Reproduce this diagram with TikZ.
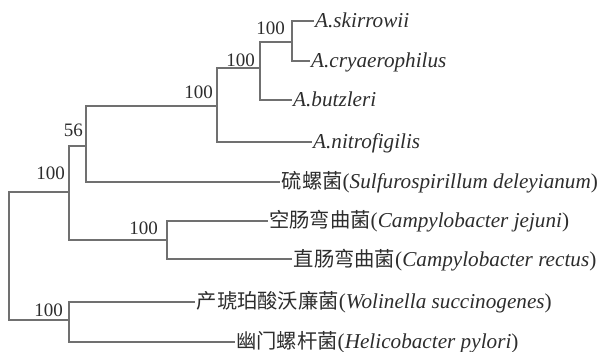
\documentclass[tikz,border=0pt]{standalone}
\usepackage{fontspec}
\setmainfont{Liberation Serif}
\newfontfamily\cjk{Noto Sans CJK SC}
\newcommand\lfnt{\fontsize{21.2}{24}\selectfont}
\newcommand\cfnt{\fontsize{20.3}{24}\selectfont\cjk}
\newcommand\nfnt{\fontsize{19}{22}\selectfont}
\definecolor{linec}{RGB}{112,112,112}
\definecolor{txt}{RGB}{45,45,45}
\tikzset{
  br/.style={draw=linec, line width=1.8pt, line cap=rect},
  leaf/.style={anchor=west, inner xsep=2pt, inner ysep=0pt, text height=14pt, text depth=0pt, font=\lfnt, text=txt},
  bs/.style={anchor=south east, inner sep=0pt, font=\nfnt, text=txt}
}
\begin{document}
\begin{tikzpicture}[x=1pt, y=-1pt]
\useasboundingbox (0,0) rectangle (599,352);
% internal nodes
\coordinate (n1) at (291.7,41.7);
\coordinate (n2) at (260,68.3);
\coordinate (n3) at (217,106);
\coordinate (n4) at (86,145.7);
\coordinate (n5) at (69.3,191.7);
\coordinate (n6) at (166.7,240);
\coordinate (n7) at (69.3,320);
\coordinate (root) at (9,256);
% leaves
\node[leaf] (l1) at (313,20.7) {\itshape A.skirrowii};
\node[leaf] (l2) at (309,61) {\itshape A.cryaerophilus};
\node[leaf] (l3) at (291,100) {\itshape A.butzleri};
\node[leaf] (l4) at (311,141.7) {\itshape A.nitrofigilis};
\node[leaf] (l5) at (279.5,181.7) {{\cfnt 硫螺菌}(\textit{Sulfurospirillum deleyianum})};
\node[leaf] (l6) at (267,220.7) {{\cfnt 空肠弯曲菌}(\textit{Campylobacter jejuni})};
\node[leaf] (l7) at (291.5,259.3) {{\cfnt 直肠弯曲菌}(\textit{Campylobacter rectus})};
\node[leaf] (l8) at (194.5,301.7) {{\cfnt 产琥珀酸沃廉菌}(\textit{Wolinella succinogenes})};
\node[leaf] (l9) at (234,341.7) {{\cfnt 幽门螺杆菌}(\textit{Helicobacter pylori})};
% branches
\draw[br] (n1) |- (l1.west);
\draw[br] (n1) |- (l2.west);
\draw[br] (n2) |- (n1);
\draw[br] (n2) |- (l3.west);
\draw[br] (n3) |- (n2);
\draw[br] (n3) |- (l4.west);
\draw[br] (n4) |- (n3);
\draw[br] (n4) |- (l5.west);
\draw[br] (n5) |- (n4);
\draw[br] (n5) |- (n6);
\draw[br] (n6) |- (l6.west);
\draw[br] (n6) |- (l7.west);
\draw[br] (n7) |- (l8.west);
\draw[br] (n7) |- (l9.west);
\draw[br] (root) |- (n5);
\draw[br] (root) |- (n7);
% bootstrap values
\node[bs] (b1) at (285,35) {100};
\node[bs] (b2) at (255,67) {100};
\node[bs] (b3) at (213,99) {100};
\node[bs] (b4) at (83,137) {56};
\node[bs] (b5) at (65,180) {100};
\node[bs] (b6) at (158,235) {100};
\node[bs] (b7) at (63,317) {100};
\end{tikzpicture}
\end{document}
